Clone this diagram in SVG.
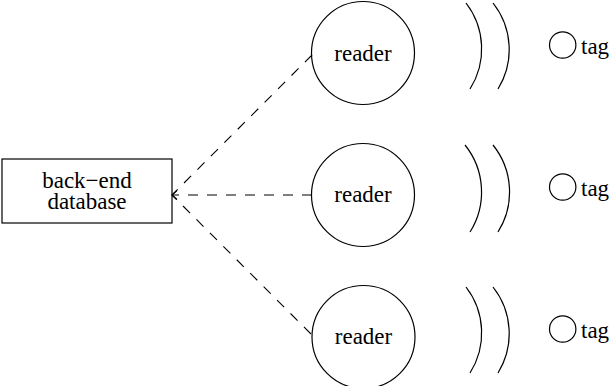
<svg xmlns="http://www.w3.org/2000/svg" width="611" height="386" viewBox="0 0 611 386">
<style>
.t{font-family:'Liberation Serif','Times New Roman',Times,serif;font-size:23px;fill:#000}
.s{fill:none;stroke:#000;stroke-width:1.2}
.d{fill:none;stroke:#000;stroke-width:1.1;stroke-dasharray:10 9}
</style>
<defs>
<marker id="ah" markerWidth="12" markerHeight="12" refX="6" refY="6" orient="auto" markerUnits="userSpaceOnUse">
<path d="M1,1.5 L6,6 L1,10.5" fill="none" stroke="#000" stroke-width="1.1"/>
</marker>
</defs>
<rect width="611" height="386" fill="#fff"/>
<g id="connectors">
<line class="d" x1="312" y1="195" x2="172" y2="195" marker-end="url(#ah)"/>
<line class="d" x1="312" y1="55" x2="172" y2="195"/>
<line class="d" x1="311" y1="334" x2="172" y2="195"/>
</g>
<g id="database">
<rect class="s" x="2" y="159" width="170" height="64"/>
<text class="t" x="87" y="188" text-anchor="middle">back−end</text>
<text class="t" x="87" y="209" text-anchor="middle">database</text>
</g>
<g id="reader1">
<circle class="s" cx="363" cy="53" r="51.5"/>
<text class="t" x="363" y="61" text-anchor="middle">reader</text>
</g>
<g id="reader2">
<circle class="s" cx="363" cy="195" r="51.5"/>
<text class="t" x="363" y="202" text-anchor="middle">reader</text>
</g>
<g id="reader3">
<circle class="s" cx="363.5" cy="337" r="51.5"/>
<text class="t" x="363.5" y="344" text-anchor="middle">reader</text>
</g>
<g id="waves1">
<path class="s" d="M466,3 A75,75 0 0,1 470,89"/>
<path class="s" d="M493,3 A75,75 0 0,1 498,89"/>
</g>
<g id="waves2">
<path class="s" d="M465,145 A75,75 0 0,1 470,232"/>
<path class="s" d="M493,145 A75,75 0 0,1 498,232"/>
</g>
<g id="waves3">
<path class="s" d="M466,287 A75,75 0 0,1 470,373"/>
<path class="s" d="M493,287 A75,75 0 0,1 498,373"/>
</g>
<g id="tag1">
<circle class="s" cx="562.7" cy="45" r="13.2"/>
<text class="t" x="581" y="53.5">tag</text>
</g>
<g id="tag2">
<circle class="s" cx="562.7" cy="187" r="13.2"/>
<text class="t" x="581" y="195.5">tag</text>
</g>
<g id="tag3">
<circle class="s" cx="562.7" cy="329" r="13.2"/>
<text class="t" x="581" y="337.5">tag</text>
</g>
</svg>
